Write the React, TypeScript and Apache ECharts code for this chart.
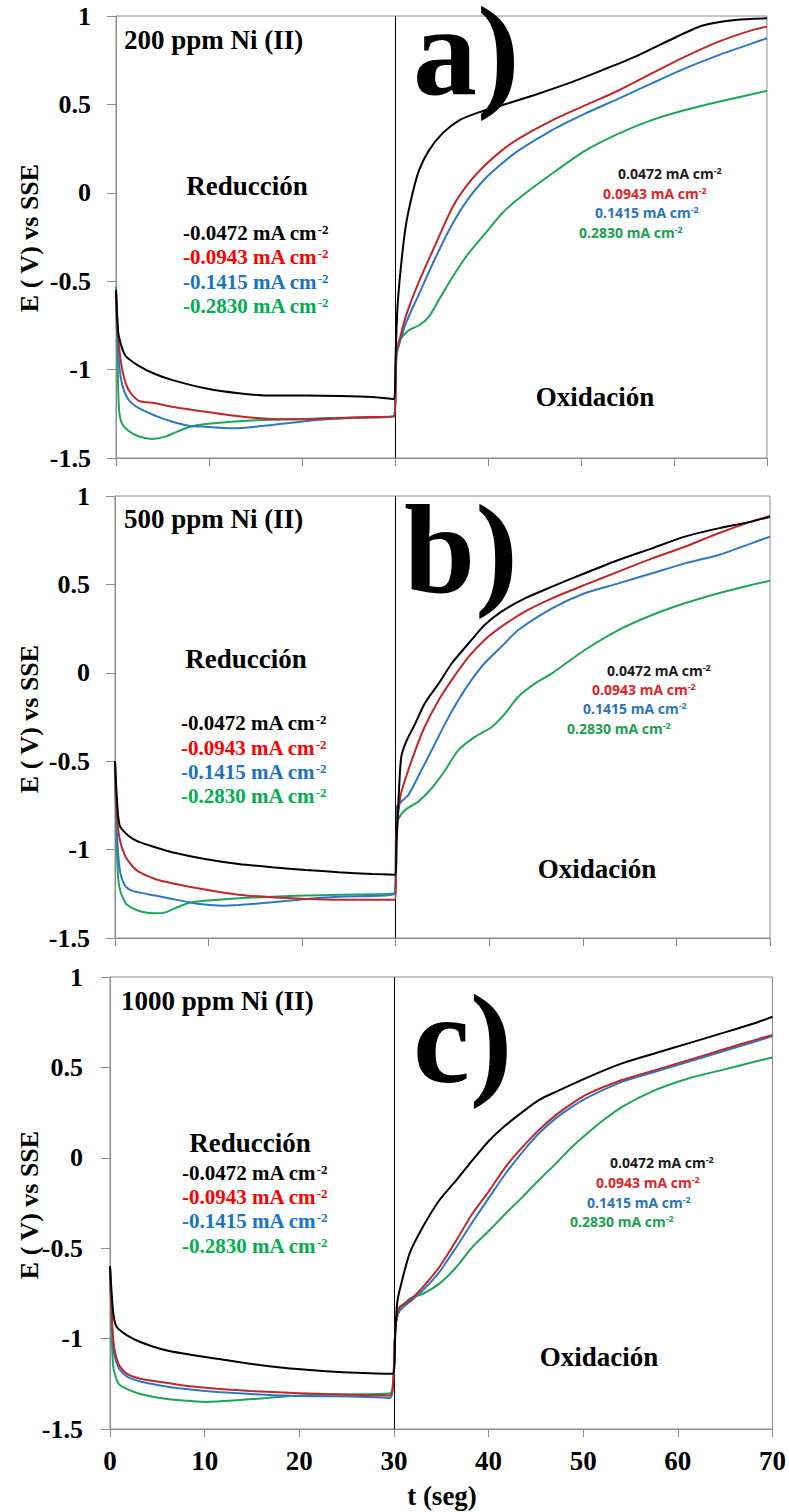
import React, { useEffect, useRef } from "react";
import * as echarts from "echarts";

// ---------- DATA (t in s, E in V vs SSE) ----------
const xTicks = [0, 10, 20, 30, 40, 50, 60, 70];
const yTicks = [-1.5, -1, -0.5, 0, 0.5, 1];
const panelTitles = ["200 ppm Ni (II)", "500 ppm Ni (II)", "1000 ppm Ni (II)"];
const panelLetters = ["a)", "b)", "c)"];
const reductionLabels = ["-0.0472", "-0.0943", "-0.1415", "-0.2830"];
const oxidationLabels = ["0.0472", "0.0943", "0.1415", "0.2830"];

const aBlack: number[][] = [[0,-0.55],[0.15,-0.72],[0.3,-0.81],[1,-0.92],[2.4,-0.977],[4.2,-1.025],[6,-1.058],[9.6,-1.106],[13.2,-1.134],[16.8,-1.147],[20.4,-1.147],[24,-1.149],[27.6,-1.155],[29.9,-1.166],[30.05,-0.95],[30.25,-0.664],[30.6,-0.438],[31.15,-0.19],[31.9,0.0],[32.6,0.13],[33.65,0.24],[35.1,0.336],[36.9,0.41],[39,0.455],[41.5,0.495],[45.1,0.555],[48.7,0.62],[52.3,0.694],[55.85,0.77],[59.4,0.86],[63,0.945],[66.6,0.978],[70,0.987]];
const aRed: number[][] = [[0,-0.55],[0.2,-0.79],[0.6,-0.98],[1.3,-1.11],[2.4,-1.175],[4.2,-1.19],[6,-1.21],[9.6,-1.238],[13.2,-1.264],[16.8,-1.279],[20.4,-1.281],[24,-1.275],[27.6,-1.268],[29.9,-1.264],[30.15,-0.9],[30.5,-0.83],[31.15,-0.7],[32.6,-0.5],[34.4,-0.287],[36.2,-0.08],[37.9,0.053],[39.7,0.157],[41.5,0.24],[43.3,0.307],[46.9,0.41],[50.5,0.496],[54.1,0.58],[57.6,0.675],[61.2,0.77],[64.8,0.855],[68.4,0.92],[70,0.94]];
const aBlue: number[][] = [[0,-0.55],[0.2,-0.88],[0.6,-1.07],[1.3,-1.166],[2.4,-1.217],[4.2,-1.26],[6,-1.294],[7.8,-1.317],[9.6,-1.323],[12.5,-1.332],[15,-1.323],[18.6,-1.302],[22,-1.283],[25.8,-1.272],[29.9,-1.264],[30.15,-0.92],[30.5,-0.85],[31.15,-0.74],[32.6,-0.57],[34.4,-0.362],[36.2,-0.174],[37.9,-0.032],[39.7,0.081],[41.5,0.166],[43.3,0.24],[46.9,0.355],[50.5,0.449],[54.1,0.534],[57.6,0.619],[61.2,0.704],[64.8,0.779],[68.4,0.845],[70,0.874]];
const aGreen: number[][] = [[0,-0.53],[0.18,-0.98],[0.32,-1.22],[0.6,-1.3],[1.3,-1.345],[2.4,-1.377],[3.85,-1.392],[5.3,-1.379],[6.4,-1.355],[7.8,-1.326],[9.6,-1.308],[13.2,-1.292],[16.8,-1.283],[20.4,-1.279],[24,-1.272],[29.9,-1.264],[30.15,-0.92],[30.4,-0.85],[30.6,-0.825],[31.5,-0.777],[32.6,-0.749],[33.65,-0.7],[34.7,-0.607],[36.2,-0.475],[37.9,-0.343],[39.7,-0.23],[41.5,-0.117],[43.3,-0.032],[46.9,0.109],[50.5,0.24],[54.1,0.336],[57.6,0.411],[61.2,0.468],[64.8,0.515],[70,0.577]];

const bBlack: number[][] = [[0,-0.5],[0.18,-0.69],[0.5,-0.864],[1.4,-0.92],[2.5,-0.955],[4.3,-0.987],[6.1,-1.015],[9.6,-1.053],[13.2,-1.081],[16.8,-1.1],[20.4,-1.115],[23.9,-1.128],[27.5,-1.138],[29.9,-1.142],[30.1,-0.95],[30.35,-0.663],[30.6,-0.474],[31.2,-0.38],[32.1,-0.286],[33.1,-0.173],[34.6,-0.06],[36,0.054],[37.8,0.167],[39.5,0.27],[41.3,0.346],[43.8,0.421],[46.7,0.487],[50.2,0.563],[53.8,0.638],[57.4,0.704],[60.9,0.77],[64.5,0.817],[68,0.855],[70,0.883]];
const bRed: number[][] = [[0,-0.5],[0.18,-0.79],[0.5,-0.94],[1.07,-1.034],[1.8,-1.09],[2.5,-1.125],[4.3,-1.166],[6.1,-1.19],[9.6,-1.226],[13.2,-1.255],[16.8,-1.27],[20.4,-1.279],[23.9,-1.283],[29.9,-1.283],[30.1,-0.9],[30.5,-0.7],[31,-0.606],[32.1,-0.437],[33.1,-0.305],[34.6,-0.154],[36,-0.04],[37.8,0.091],[39.5,0.186],[41.3,0.261],[43.8,0.346],[46.7,0.421],[50.2,0.497],[53.8,0.572],[57.4,0.647],[60.9,0.713],[64.5,0.789],[68,0.855],[70,0.887]];
const bBlue: number[][] = [[0,-0.5],[0.18,-0.88],[0.5,-1.11],[1.07,-1.204],[1.8,-1.232],[2.5,-1.242],[4.3,-1.26],[6.1,-1.279],[7.9,-1.298],[9.6,-1.311],[11.4,-1.317],[13.2,-1.313],[16.8,-1.298],[20.4,-1.279],[23.9,-1.266],[29.9,-1.251],[30.1,-0.76],[30.6,-0.729],[31.35,-0.691],[32.4,-0.587],[33.85,-0.437],[35.3,-0.286],[36.7,-0.154],[38.1,-0.04],[39.5,0.054],[41.3,0.148],[43.1,0.242],[46.7,0.365],[50.2,0.45],[53.8,0.506],[57.4,0.563],[60.9,0.619],[64.5,0.666],[68,0.732],[70,0.77]];
const bGreen: number[][] = [[0,-0.5],[0.18,-0.977],[0.43,-1.204],[1.07,-1.298],[1.8,-1.33],[2.86,-1.351],[4.3,-1.36],[5.4,-1.355],[6.8,-1.323],[8.2,-1.298],[9.6,-1.289],[13.2,-1.275],[16.8,-1.266],[20.4,-1.26],[23.9,-1.255],[29.9,-1.245],[30.1,-0.85],[31,-0.776],[32.4,-0.729],[33.85,-0.653],[35.3,-0.55],[36.7,-0.437],[38.5,-0.361],[40.3,-0.305],[41.7,-0.229],[43.1,-0.135],[44.9,-0.06],[46.7,-0.003],[50.2,0.129],[53.8,0.242],[57.4,0.327],[60.9,0.393],[64.5,0.45],[68,0.497],[70,0.521]];

const cBlack: number[][] = [[0,-0.6],[0.35,-0.861],[0.7,-0.935],[1.76,-0.981],[3.2,-1.019],[5.3,-1.056],[7.75,-1.083],[11.3,-1.111],[14.8,-1.139],[18.3,-1.161],[21.8,-1.176],[25.35,-1.187],[29.9,-1.194],[30.15,-0.95],[30.35,-0.8],[30.6,-0.733],[31.65,-0.53],[33.05,-0.383],[34.8,-0.235],[36.6,-0.124],[38.3,-0.013],[40.1,0.097],[41.8,0.18],[43.6,0.254],[45.3,0.319],[47.1,0.365],[50.6,0.448],[54.1,0.522],[57.6,0.578],[61.1,0.633],[64.6,0.688],[68.1,0.744],[70,0.78]];
const cRed: number[][] = [[0,-0.6],[0.35,-1.01],[0.9,-1.14],[1.76,-1.194],[3.2,-1.222],[5.3,-1.24],[7.75,-1.259],[11.3,-1.278],[14.8,-1.29],[18.3,-1.298],[21.8,-1.305],[25.35,-1.311],[29.6,-1.315],[30.1,-1.0],[30.25,-0.9],[30.6,-0.826],[31.65,-0.789],[33.05,-0.715],[34.8,-0.604],[36.6,-0.456],[38.3,-0.308],[40.1,-0.18],[41.8,-0.05],[43.6,0.06],[45.3,0.153],[47.1,0.236],[48.8,0.3],[50.6,0.356],[54.1,0.43],[57.6,0.485],[61.1,0.54],[64.6,0.596],[68.1,0.651],[70,0.68]];
const cBlue: number[][] = [[0,-0.6],[0.35,-1.05],[0.9,-1.16],[1.76,-1.209],[3.2,-1.237],[5.3,-1.259],[7.75,-1.278],[11.3,-1.296],[14.8,-1.306],[18.3,-1.315],[21.8,-1.319],[25.35,-1.32],[29.6,-1.328],[30.1,-1.0],[30.25,-0.9],[30.6,-0.844],[31.65,-0.798],[33.05,-0.733],[34.8,-0.632],[36.6,-0.493],[38.3,-0.355],[40.1,-0.216],[41.8,-0.087],[43.6,0.033],[45.3,0.134],[47.1,0.218],[48.8,0.282],[50.6,0.337],[54.1,0.42],[57.6,0.476],[61.1,0.531],[64.6,0.587],[68.1,0.642],[70,0.674]];
const cGreen: number[][] = [[0,-0.6],[0.18,-0.954],[0.35,-1.157],[0.9,-1.25],[1.76,-1.278],[3.2,-1.306],[5.3,-1.328],[7.75,-1.343],[10.2,-1.35],[13,-1.343],[16.5,-1.328],[20.1,-1.315],[23.6,-1.309],[29.6,-1.302],[30.1,-1.0],[30.25,-0.9],[30.6,-0.844],[31.65,-0.78],[33.05,-0.752],[34.8,-0.696],[36.6,-0.604],[38.3,-0.493],[40.1,-0.401],[41.8,-0.308],[43.6,-0.216],[45.3,-0.124],[47.1,-0.032],[48.8,0.06],[50.6,0.143],[52.35,0.217],[54.1,0.282],[57.6,0.374],[61.1,0.439],[64.6,0.485],[68.1,0.531],[70,0.555]];

const panelSeries = [
  [aBlack, aRed, aBlue, aGreen],
  [bBlack, bRed, bBlue, bGreen],
  [cBlack, cRed, cBlue, cGreen],
];

// ---------- STYLE ----------
const SERIF = "Liberation Serif";
const SANS = "Open Sans";
const lineColors = ["#000000", "#c0282d", "#2e78c0", "#1ea55a"];
const redTextColors = ["#000000", "#ff0000", "#1a74c4", "#00b050"];
const oxTextColors = ["#1a1a1a", "#e0252b", "#2e75b6", "#20a050"];
const axisGrey = "#8c8c8c";
const LETTER_SIZE = 128;

const grids = [
  { left: 116, top: 16, width: 651, height: 442 },
  { left: 115, top: 496, width: 655, height: 442 },
  { left: 110, top: 977, width: 664, height: 452 },
];
const yLabelMargins = [25, 25, 27];

const layout = [
  {
    title: [124, 40], letter: [413, 51], yName: [29.5, 238], red: [247, 186],
    redLeg: [183, [233, 257, 282, 306]], ox: [595, 397],
    oxLeg: [[618, 173], [603, 193], [595, 212], [579, 232]],
  },
  {
    title: [124, 519], letter: [404, 549], yName: [29.5, 719], red: [246, 659],
    redLeg: [181, [723, 748, 772, 796]], ox: [597, 869],
    oxLeg: [[607, 670], [592, 689], [583, 708], [567, 728]],
  },
  {
    title: [121, 1001], letter: [413, 1039], yName: [29.5, 1205], red: [250, 1143],
    redLeg: [182, [1173, 1197, 1221, 1246]], ox: [599, 1357],
    oxLeg: [[610, 1162], [596, 1182], [587, 1202], [570, 1221]],
  },
];

function supText(x: number, y: number, label: string, color: string, size: number, family: string) {
  const sub = Math.round(size * 0.62);
  return {
    type: "text",
    x,
    y,
    silent: true,
    style: {
      text: `{b|${label} mA cm}{s|-2}`,
      align: "left",
      verticalAlign: "middle",
      fontFamily: family,
      fontWeight: "bold",
      fontSize: size,
      rich: {
        b: { fontSize: size, fontFamily: family, fontWeight: "bold", fill: color },
        s: { fontSize: sub, fontFamily: family, fontWeight: "bold", fill: color, verticalAlign: "top" },
      },
    },
  };
}

function plainText(x: number, y: number, text: string, size: number, align: string, extra: any = {}) {
  return {
    type: "text",
    x,
    y,
    silent: true,
    ...extra,
    style: {
      text,
      fontSize: size,
      fontFamily: SERIF,
      fontWeight: "bold",
      fill: "#000",
      align,
      verticalAlign: "middle",
    },
  };
}

export default function App() {
  const ref = useRef<HTMLDivElement>(null);

  useEffect(() => {
    document.body.style.margin = "0";
    if (!ref.current) return;
    const chart = echarts.init(ref.current, undefined, { renderer: "svg" });

    const xAxis = grids.map((_, i) => ({
      gridIndex: i,
      type: "value",
      min: xTicks[0],
      max: xTicks[xTicks.length - 1],
      interval: 10,
      axisLine: { show: true, onZero: false, lineStyle: { color: axisGrey, width: 1 } },
      axisTick: { show: true, length: 8, lineStyle: { color: axisGrey } },
      splitLine: { show: false },
      axisLabel: {
        show: i === 2,
        fontSize: 27,
        fontWeight: "bold",
        fontFamily: SERIF,
        color: "#000",
        margin: 18,
      },
    }));

    const yAxis = grids.map((_, i) => ({
      gridIndex: i,
      type: "value",
      min: yTicks[0],
      max: yTicks[yTicks.length - 1],
      interval: 0.5,
      axisLine: { show: true, onZero: false, lineStyle: { color: axisGrey, width: 1 } },
      axisTick: { show: true, length: 9, lineStyle: { color: axisGrey } },
      splitLine: { show: false },
      axisLabel: {
        fontSize: 26,
        fontWeight: "bold",
        fontFamily: SERIF,
        color: "#000",
        margin: yLabelMargins[i],
      },
    }));

    const series: any[] = [];
    panelSeries.forEach((list, p) => {
      list.forEach((data, k) => {
        series.push({
          type: "line",
          xAxisIndex: p,
          yAxisIndex: p,
          data,
          symbol: "none",
          showSymbol: false,
          smooth: 0.25,
          lineStyle: { color: lineColors[k], width: 2 },
          z: 3 + (3 - k),
          markLine:
            k === 0
              ? {
                  silent: true,
                  symbol: ["none", "none"],
                  label: { show: false },
                  lineStyle: { color: "#000", width: 1, type: "solid" },
                  data: [{ xAxis: 30 }],
                }
              : undefined,
        });
      });
    });

    const graphic: any[] = [];
    layout.forEach((L, p) => {
      graphic.push(plainText(L.title[0], L.title[1], panelTitles[p], 27, "left"));
      graphic.push(plainText(L.letter[0], L.letter[1], panelLetters[p], LETTER_SIZE, "left"));
      graphic.push(plainText(L.yName[0], L.yName[1], "E ( V) vs SSE", 26, "center", { rotation: Math.PI / 2 }));
      graphic.push(plainText(L.red[0], L.red[1], "Reducción", 27, "center"));
      graphic.push(plainText(L.ox[0], L.ox[1], "Oxidación", 27, "center"));
      const rl = L.redLeg as any;
      reductionLabels.forEach((lab, k) => {
        graphic.push(supText(rl[0], rl[1][k], lab, redTextColors[k], 21, SERIF));
      });
      (L.oxLeg as number[][]).forEach((pos, k) => {
        graphic.push(supText(pos[0], pos[1], oxidationLabels[k], oxTextColors[k], 14, SANS));
      });
    });
    graphic.push(plainText(442, 1496, "t (seg)", 27, "center"));

    chart.setOption({
      animation: false,
      backgroundColor: "#ffffff",
      grid: grids.map((g) => ({ ...g, show: true, borderColor: axisGrey, borderWidth: 1, backgroundColor: "transparent" })),
      xAxis,
      yAxis,
      series,
      graphic,
    } as any);

    return () => {
      chart.dispose();
    };
  }, []);

  return <div ref={ref} style={{ position: "absolute", left: 0, top: 0, width: 789, height: 1512 }} />;
}
